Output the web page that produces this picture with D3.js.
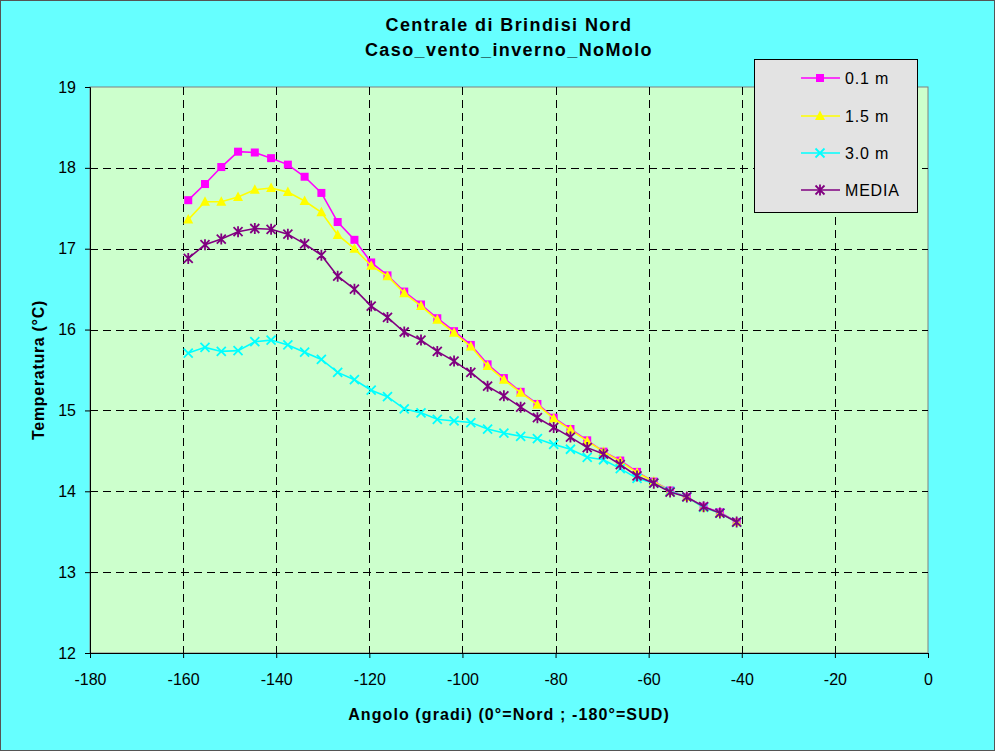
<!DOCTYPE html>
<html><head><meta charset="utf-8">
<script src="https://cdn.jsdelivr.net/npm/d3@7"></script>
<style>body{margin:0;background:#66FFFF;} svg{display:block;} text{font-family:"Liberation Sans",Arial,sans-serif;}</style>
</head><body>
<script>
const angles = [-158.9,-155.3,-151.8,-148.2,-144.6,-141.1,-137.5,-133.9,-130.3,-126.8,-123.2,-119.6,-116.1,-112.5,-108.9,-105.4,-101.8,-98.2,-94.6,-91.1,-87.5,-83.9,-80.4,-76.8,-73.2,-69.7,-66.1,-62.5,-58.9,-55.4,-51.8,-48.2,-44.7,-41.1];
const t01 = [17.60,17.80,18.01,18.20,18.19,18.12,18.04,17.89,17.69,17.33,17.11,16.83,16.67,16.47,16.31,16.14,15.98,15.81,15.57,15.40,15.23,15.08,14.91,14.77,14.63,14.49,14.38,14.24,14.12,14.01,13.93,13.81,13.74,13.62];
const t15 = [17.36,17.58,17.58,17.64,17.73,17.75,17.70,17.59,17.45,17.17,17.00,16.79,16.66,16.45,16.29,16.12,15.96,15.79,15.55,15.38,15.22,15.07,14.90,14.76,14.62,14.49,14.37,14.23,14.12,14.00,13.93,13.80,13.73,13.62];
const t30 = [15.71,15.78,15.73,15.74,15.85,15.87,15.81,15.72,15.63,15.47,15.38,15.25,15.17,15.02,14.97,14.89,14.87,14.85,14.77,14.72,14.68,14.65,14.58,14.52,14.42,14.39,14.28,14.16,14.10,14.00,13.93,13.80,13.73,13.62];
const tMedia = [16.88,17.05,17.12,17.21,17.25,17.24,17.18,17.06,16.92,16.66,16.50,16.29,16.15,15.97,15.87,15.73,15.61,15.47,15.30,15.18,15.04,14.91,14.79,14.67,14.54,14.46,14.33,14.19,14.10,13.99,13.93,13.81,13.73,13.62];
const seriesNames = ["0.1 m","1.5 m","3.0 m","MEDIA"];
const seriesColors = ["#FF00FF","#FFFF00","#00FFFF","#800080"];
const seriesMarkers = ["square","triangle","x","asterisk"];
const xTicks = [-180,-160,-140,-120,-100,-80,-60,-40,-20,0];
const yTicks = [12,13,14,15,16,17,18,19];
const titleLines = ["Centrale di Brindisi Nord","Caso_vento_inverno_NoMolo"];
const xTitle = "Angolo (gradi) (0°=Nord ; -180°=SUD)";
const yTitle = "Temperatura (°C)";

const W=995,H=751;
const m={left:90,top:87,right:928,bottom:653};
const svg=d3.select("body").append("svg").attr("width",W).attr("height",H);
svg.append("rect").attr("x",0.5).attr("y",0.5).attr("width",W-1).attr("height",H-1).attr("fill","#66FFFF").attr("stroke","#555");

const x=d3.scaleLinear().domain([-180,0]).range([m.left,m.right]);
const y=d3.scaleLinear().domain([12,19]).range([m.bottom,m.top]);

svg.append("rect").attr("x",m.left).attr("y",m.top).attr("width",m.right-m.left).attr("height",m.bottom-m.top).attr("fill","#CCFFCC").attr("stroke","#808080");

// grid
const g=svg.append("g");
g.selectAll(".vg").data(xTicks.slice(1,-1)).join("line")
 .attr("x1",d=>Math.round(x(d))+0.5).attr("x2",d=>Math.round(x(d))+0.5).attr("y1",m.top).attr("y2",m.bottom)
 .attr("stroke","#000").attr("stroke-dasharray","8,5");
g.selectAll(".hg").data(yTicks.slice(1,-1)).join("line")
 .attr("y1",d=>Math.round(y(d))+0.5).attr("y2",d=>Math.round(y(d))+0.5).attr("x1",m.left).attr("x2",m.right)
 .attr("stroke","#000").attr("stroke-dasharray","8,5");

// axes
const xAxis=svg.append("g").attr("transform",`translate(0,${m.bottom})`)
 .call(d3.axisBottom(x).tickValues(xTicks).tickSize(5).tickPadding(16).tickFormat(d=>String(d)));
const yAxis=svg.append("g").attr("transform",`translate(${m.left},0)`)
 .call(d3.axisLeft(y).tickValues(yTicks).tickSize(5).tickPadding(9).tickFormat(d=>String(d)));
[xAxis,yAxis].forEach(a=>{a.select(".domain").attr("stroke","#000");a.selectAll("line").attr("stroke","#000");
 a.selectAll("text").attr("font-size",16).attr("fill","#000").style("font-family","'Liberation Sans',Arial,sans-serif");});

// marker function
function marker(sel,type,color){
 if(type==="square"){sel.append("rect").attr("x",-4).attr("y",-4).attr("width",8).attr("height",8).attr("fill",color);}
 else if(type==="triangle"){sel.append("path").attr("d","M0,-5.5L5,4L-5,4Z").attr("fill",color);}
 else if(type==="x"){sel.append("path").attr("d","M-4.5,-4.5L4.5,4.5M-4.5,4.5L4.5,-4.5").attr("stroke",color).attr("stroke-width",1.8);}
 else {sel.append("path").attr("d","M-4.5,-4.5L4.5,4.5M-4.5,4.5L4.5,-4.5M0,-5.5L0,5.5").attr("stroke",color).attr("stroke-width",1.8);}
}

const allSeries=[t01,t15,t30,tMedia];
const line=d3.line().x((d,i)=>x(angles[i])).y(d=>y(d));
allSeries.forEach((vals,k)=>{
 const sg=svg.append("g");
 sg.append("path").datum(vals).attr("d",line).attr("fill","none").attr("stroke",seriesColors[k]).attr("stroke-width",1.6);
 sg.selectAll("g.m").data(vals).join("g").attr("transform",(d,i)=>`translate(${x(angles[i])},${y(d)})`)
  .each(function(){marker(d3.select(this),seriesMarkers[k],seriesColors[k]);});
});

// legend
const lg=svg.append("g");
lg.append("rect").attr("x",754.5).attr("y",59.5).attr("width",163).attr("height",153).attr("fill","#E3E3E3").attr("stroke","#000");
seriesNames.forEach((n,k)=>{
 const yy=[78,116,153,190][k];
 lg.append("line").attr("x1",801).attr("x2",840).attr("y1",yy).attr("y2",yy).attr("stroke",seriesColors[k]).attr("stroke-width",1.6);
 const mg=lg.append("g").attr("transform",`translate(820,${yy})`);marker(mg,seriesMarkers[k],seriesColors[k]);
 lg.append("text").attr("x",845).attr("y",yy+6).attr("font-size",16).attr("letter-spacing",0.8).text(n);
});

// titles
titleLines.forEach((t,i)=>svg.append("text").attr("x",(m.left+m.right)/2).attr("y",31+i*25).attr("text-anchor","middle")
 .attr("font-size",18).attr("font-weight","bold").attr("letter-spacing",1.4).text(t));
svg.append("text").attr("x",(m.left+m.right)/2).attr("y",720).attr("text-anchor","middle").attr("font-size",16).attr("font-weight","bold").attr("letter-spacing",1.1).text(xTitle);
svg.append("text").attr("transform",`translate(44,${(m.top+m.bottom)/2}) rotate(-90)`).attr("text-anchor","middle").attr("font-size",16).attr("font-weight","bold").attr("letter-spacing",0.7).text(yTitle);
</script>
</body></html>
